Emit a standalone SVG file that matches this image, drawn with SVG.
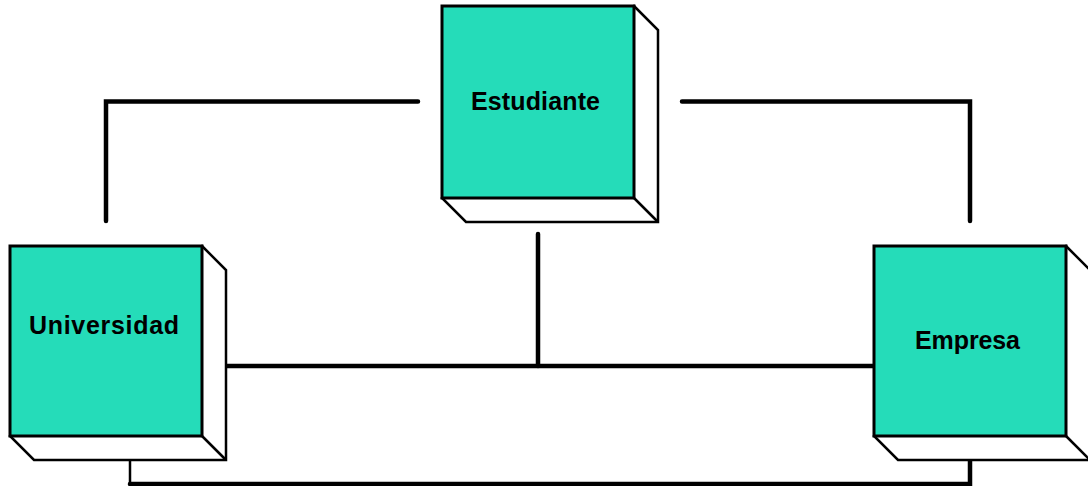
<svg xmlns="http://www.w3.org/2000/svg" width="1088" height="486" viewBox="0 0 1088 486">
<style>
.front{fill:#25dcb9;stroke:#000;stroke-width:3}
.side{fill:#fff;stroke:#000;stroke-width:2.5;stroke-linejoin:miter}
.lbl{font-family:"Liberation Sans",Arial,sans-serif;font-weight:bold;font-size:25px;fill:#000}
.wire{fill:none;stroke:#000;stroke-width:4.5;stroke-linecap:round;stroke-linejoin:miter}
.thin{fill:none;stroke:#000;stroke-width:2.5}
</style>
<defs>
<g id="boxTall">
<path class="side" d="M192 0L216 24V216H24L0 192Z"/>
<path class="side" d="M192 192L216 216"/>
<rect class="front" width="192" height="192"/>
</g>
<g id="boxShort">
<path class="side" d="M192 0L216 24V214H24L0 190Z"/>
<path class="side" d="M192 190L216 214"/>
<rect class="front" width="192" height="190"/>
</g>
</defs>
<rect width="1088" height="486" fill="#fff"/>
<g id="connectors">
<path class="wire" d="M418 101.500H106V221"/>
<path class="wire" d="M682 101.500H970V221"/>
<path class="wire" d="M538 234V366"/>
<path class="wire" d="M226 366H875"/>
<path class="thin" d="M130 460V484"/>
<path class="wire" d="M130 484H970V460"/>
</g>
<g id="estudiante">
<use href="#boxTall" x="442" y="6"/>
<text class="lbl" x="471" y="110" textLength="129" lengthAdjust="spacing">Estudiante</text>
</g>
<g id="universidad">
<use href="#boxShort" x="10" y="246"/>
<text class="lbl" x="29" y="334" textLength="150" lengthAdjust="spacing">Universidad</text>
</g>
<g id="empresa">
<use href="#boxShort" x="874" y="246"/>
<text class="lbl" x="915" y="349" textLength="105" lengthAdjust="spacing">Empresa</text>
</g>
</svg>
